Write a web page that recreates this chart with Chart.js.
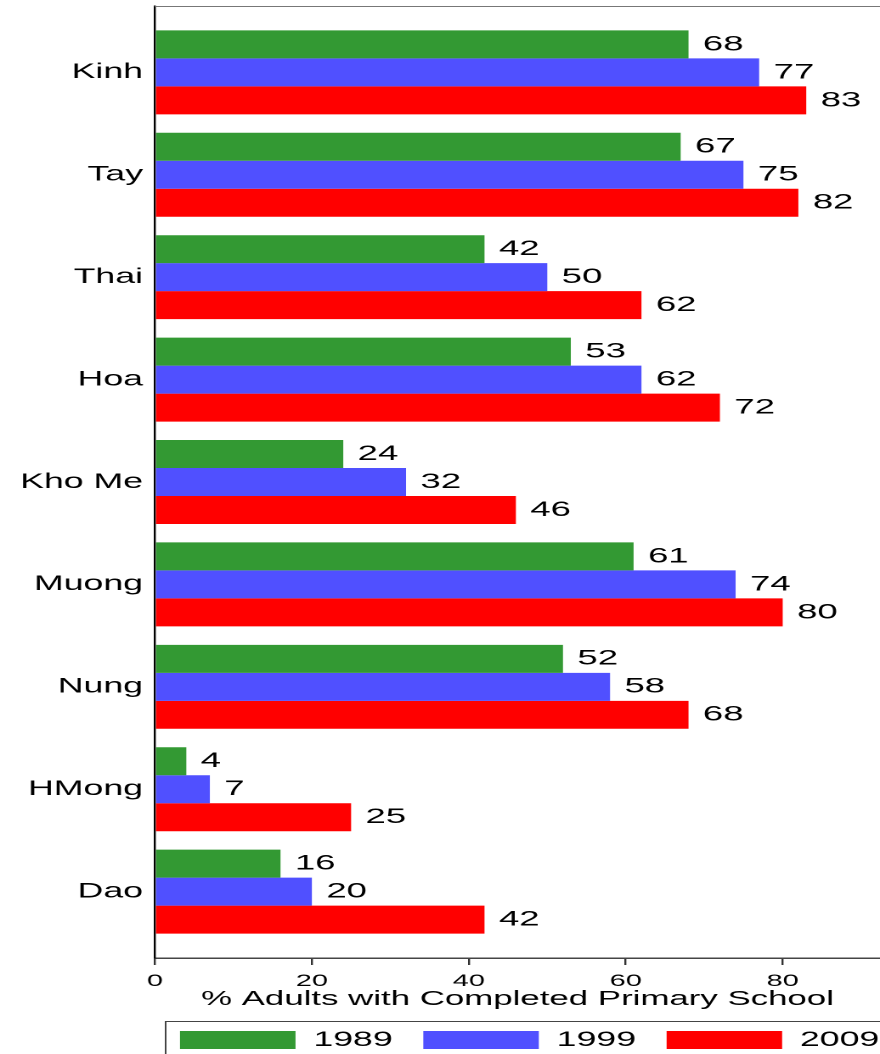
<!DOCTYPE html>
<html>
<head>
<meta charset="utf-8">
<script src="https://cdn.jsdelivr.net/npm/chart.js@4.4.0/dist/chart.umd.min.js"></script>
<style>
  html, body { margin: 0; padding: 0; background: #fff; overflow: hidden; }
  /* the original graph is stretched sideways, so draw narrow and widen it */
  #wrap { position: absolute; left: 0; top: 0; width: 518px; height: 1054px;
          transform: scaleX(1.6988); transform-origin: 0 0; }
</style>
</head>
<body>
<div id="wrap"><canvas id="eduChart"></canvas></div>
<script>
// Ethnic groups, top to bottom
const groups = ['Kinh', 'Tay', 'Thai', 'Hoa', 'Kho Me', 'Muong', 'Nung', 'HMong', 'Dao'];
const years = ['1989', '1999', '2009'];
const pct1989 = [68, 67, 42, 53, 24, 61, 52, 4, 16];
const pct1999 = [77, 75, 50, 62, 32, 74, 58, 7, 20];
const pct2009 = [83, 82, 62, 72, 46, 80, 68, 25, 42];
const xTicks = [0, 20, 40, 60, 80];

const colors = ['#339933', '#5050ff', '#ff0000'];
const fontFamily = '"Liberation Sans", Arial, sans-serif';
Chart.defaults.font.family = fontFamily;
Chart.defaults.color = '#000';

// numbers at the end of each bar
const valueLabels = {
    id: 'valueLabels',
    afterDatasetsDraw(chart) {
        const ctx = chart.ctx;
        ctx.save();
        ctx.font = '21.5px ' + fontFamily;
        ctx.fillStyle = '#000';
        ctx.textAlign = 'left';
        ctx.textBaseline = 'middle';
        chart.data.datasets.forEach((ds, i) => {
            chart.getDatasetMeta(i).data.forEach((bar, j) => {
                ctx.fillText(ds.data[j], bar.x + 8.5, bar.y);
            });
        });
        ctx.restore();
    }
};

// top rule of the plot and the box round the legend
const frame = {
    id: 'frame',
    afterLayout(chart) {
        chart.legend.left += 17.6;
        chart.legend.right += 17.6;
    },
    afterDraw(chart) {
        const {ctx, chartArea: a, legend} = chart;
        ctx.save();
        ctx.strokeStyle = '#777';
        ctx.lineWidth = 1;
        ctx.beginPath();
        ctx.moveTo(a.left, a.top + 0.5);
        ctx.lineTo(a.right, a.top + 0.5);
        ctx.stroke();
        ctx.strokeStyle = '#444';
        ctx.strokeRect(a.left + 6.3, legend.top + 10, a.right, 100);
        ctx.restore();
    }
};

const eduChart = new Chart(document.getElementById('eduChart'), {
    type: 'bar',
    data: {
        labels: groups.map((g, i) => i),
        datasets: [
            { label: years[0], data: pct1989, backgroundColor: colors[0] },
            { label: years[1], data: pct1999, backgroundColor: colors[1] },
            { label: years[2], data: pct2009, backgroundColor: colors[2] }
        ]
    },
    options: {
        indexAxis: 'y',
        responsive: true,
        maintainAspectRatio: false,
        devicePixelRatio: 2,
        animation: false,
        events: [],
        categoryPercentage: 0.82,
        barPercentage: 1,
        borderWidth: 0,
        layout: {
            padding: { top: 6, bottom: -6.5, left: 0, right: 0 }
        },
        scales: {
            x: {
                bounds: 'data',
                min: 0,
                max: 92.4,
                afterBuildTicks: s => { s.ticks = xTicks.map(v => ({ value: v })); },
                afterFit: s => { s.height = 53.5; },
                grid: { display: true, drawOnChartArea: false, drawTicks: true, tickLength: 7, color: '#333', lineWidth: 1.2 },
                border: { display: true, color: '#444', width: 1.5 },
                ticks: { font: { size: 17 }, padding: 6, maxRotation: 0 },
                title: {
                    display: true,
                    text: '% Adults with Completed Primary School',
                    font: { size: 20.5 },
                    padding: { top: 0, bottom: 0 }
                }
            },
            y: {
                type: 'linear',
                bounds: 'data',
                offset: false,
                reverse: true,
                min: -0.648,
                max: 8.648,
                afterBuildTicks: s => { s.ticks = groups.map((g, i) => ({ value: i })); },
                afterFit: s => { s.width = 91.2; s.paddingTop = 0; s.paddingBottom = 0; },
                grid: { display: false, drawTicks: false },
                border: { display: true, color: '#000', width: 1.2 },
                ticks: { font: { size: 21 }, padding: 7, callback: v => groups[v] }
            }
        },
        plugins: {
            legend: {
                position: 'bottom',
                align: 'end',
                labels: { boxWidth: 68, boxHeight: 18, padding: 18, font: { size: 21 } }
            },
            tooltip: { enabled: false }
        }
    },
    plugins: [valueLabels, frame]
});
</script>
</body>
</html>
